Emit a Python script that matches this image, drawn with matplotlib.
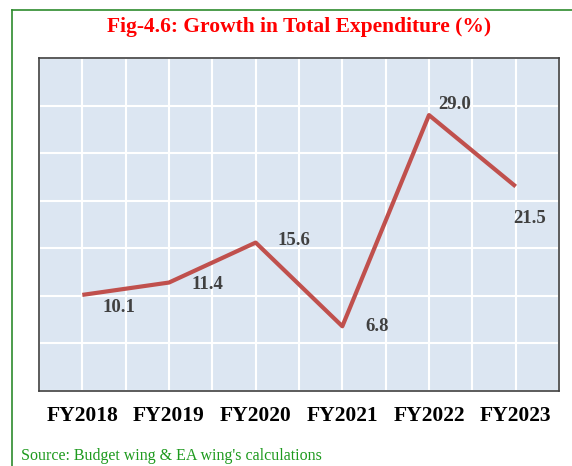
import matplotlib
matplotlib.use("Agg")
import matplotlib.pyplot as plt
from matplotlib.lines import Line2D

years = ["FY2018", "FY2019", "FY2020", "FY2021", "FY2022", "FY2023"]
growth = [10.1, 11.4, 15.6, 6.8, 29.0, 21.5]
# label offsets in pixels (dx, dy) from each point
label_offsets = [(37, -13), (38, -2), (38, 2), (35, 0), (26, 11), (14, -32)]

W, H, DPI = 572, 466, 100
fig = plt.figure(figsize=(W / DPI, H / DPI), dpi=DPI, facecolor="white")
ax = fig.add_axes([39 / W, 1 - 391 / H, 520 / W, 333 / H])

serif = ["Liberation Serif", "DejaVu Serif"]

ax.set_facecolor("#DCE6F2")
x = list(range(len(years)))
ax.plot(x, growth, color="#C0504D", lw=3, solid_capstyle="butt", zorder=3)

for xi, v, (dx, dy) in zip(x, growth, label_offsets):
    ax.annotate(f"{v:.1f}", (xi, v), xytext=(dx, dy), textcoords="offset pixels",
                ha="center", va="center", fontsize=13.5, fontweight="bold",
                color="#404040", family=serif)

ax.set_xlim(-0.5, 5.5)
ax.set_ylim(0, 35)
ax.set_xticks([i * 0.5 - 0.5 for i in range(13)], minor=True)
ax.set_xticks(x)
ax.set_xticklabels(years, fontsize=15.5, fontweight="bold", family=serif)
ax.set_yticks(range(0, 36, 5))
ax.tick_params(axis="y", left=False, labelleft=False)
ax.tick_params(axis="x", which="both", length=0, pad=11)
ax.grid(True, which="both", color="white", lw=1.5)
ax.set_axisbelow(True)
for s in ax.spines.values():
    s.set_color("#404040")
    s.set_linewidth(1.2)

fig.text(299 / W, 1 - 27 / H, "Fig-4.6: Growth in Total Expenditure (%)",
         ha="center", va="center", color="#FF0000", fontsize=15.5,
         fontweight="bold", family=serif)
fig.text(21 / W, 1 - 456 / H, "Source: Budget wing & EA wing's calculations",
         ha="left", va="center", color="#1E9A1E", fontsize=11.5, family=serif)

# green frame: left and top edges
green = "#2E8B2E"
fig.add_artist(Line2D([11.5 / W, 11.5 / W], [0, 1 - 9.5 / H], color=green, lw=1.2))
fig.add_artist(Line2D([11.5 / W, 1], [1 - 9.5 / H, 1 - 9.5 / H], color=green, lw=1.2))

fig.savefig("out.png", dpi=DPI, facecolor="white")
